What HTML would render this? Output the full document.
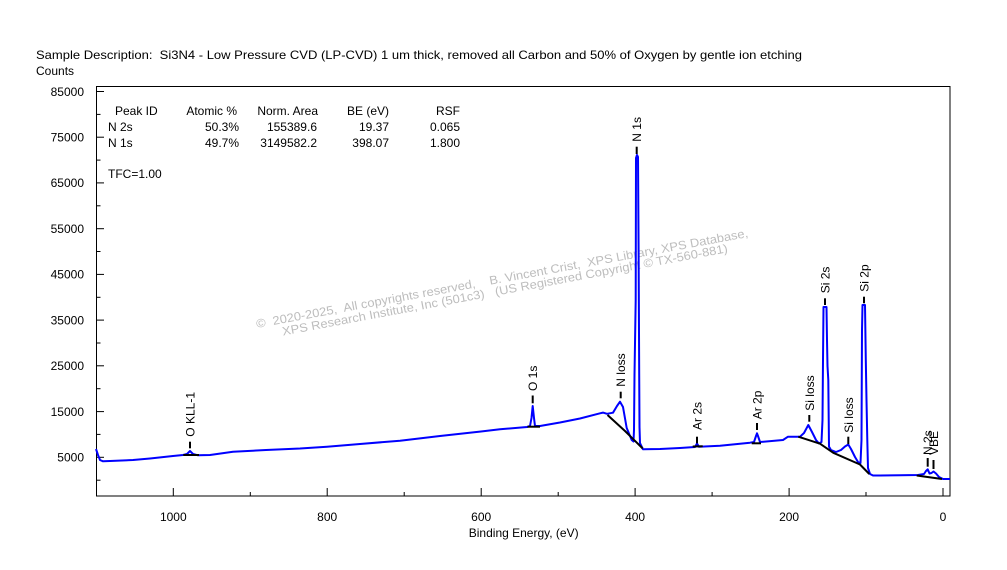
<!DOCTYPE html>
<html>
<head>
<meta charset="utf-8">
<style>
  html, body { margin:0; padding:0; background:#ffffff; }
  svg { display:block; }
  text { font-family: "Liberation Sans", Arial, sans-serif; font-size:12px; fill:#000; white-space:pre; }
</style>
</head>
<body>
<svg width="1007" height="570" viewBox="0 0 1007 570" xmlns="http://www.w3.org/2000/svg" xml:space="preserve">
  <rect x="0" y="0" width="1007" height="570" fill="#ffffff"/>

  <!-- Title -->
  <text x="36" y="59" textLength="766" lengthAdjust="spacingAndGlyphs">Sample Description:  Si3N4 - Low Pressure CVD (LP-CVD) 1 um thick, removed all Carbon and 50% of Oxygen by gentle ion etching</text>
  <text x="36" y="75">Counts</text>

  <!-- Watermark -->
  <text x="257" y="328" transform="rotate(-10.5 257 328)" textLength="500" lengthAdjust="spacingAndGlyphs" style="fill:#bdbdbd;font-size:12px">©  2020-2025,  All copyrights reserved,    B. Vincent Crist,  XPS Library, XPS Database,</text>
  <text x="283" y="335.5" transform="rotate(-10.6 283 335.5)" textLength="453" lengthAdjust="spacingAndGlyphs" style="fill:#bdbdbd;font-size:12px">XPS Research Institute, Inc (501c3)   (US Registered Copyright © TX-560-881)</text>

  <!-- Plot frame -->
  <rect x="96.5" y="86.5" width="853.5" height="409.5" fill="none" stroke="#000" stroke-width="1"/>

  <!-- Y ticks -->
  <g stroke="#000" stroke-width="1">
    <line x1="96" y1="91.5" x2="104" y2="91.5"/>
    <line x1="96" y1="137.2" x2="104" y2="137.2"/>
    <line x1="96" y1="182.9" x2="104" y2="182.9"/>
    <line x1="96" y1="228.7" x2="104" y2="228.7"/>
    <line x1="96" y1="274.4" x2="104" y2="274.4"/>
    <line x1="96" y1="320.1" x2="104" y2="320.1"/>
    <line x1="96" y1="365.8" x2="104" y2="365.8"/>
    <line x1="96" y1="411.6" x2="104" y2="411.6"/>
    <line x1="96" y1="457.3" x2="104" y2="457.3"/>
    <line x1="96" y1="114.4" x2="100.5" y2="114.4"/>
    <line x1="96" y1="160.1" x2="100.5" y2="160.1"/>
    <line x1="96" y1="205.8" x2="100.5" y2="205.8"/>
    <line x1="96" y1="251.5" x2="100.5" y2="251.5"/>
    <line x1="96" y1="297.3" x2="100.5" y2="297.3"/>
    <line x1="96" y1="343.0" x2="100.5" y2="343.0"/>
    <line x1="96" y1="388.7" x2="100.5" y2="388.7"/>
    <line x1="96" y1="434.4" x2="100.5" y2="434.4"/>
    <line x1="96" y1="480.2" x2="100.5" y2="480.2"/>
  </g>
  <g text-anchor="end">
    <text x="84" y="95.8">85000</text>
    <text x="84" y="141.5">75000</text>
    <text x="84" y="187.2">65000</text>
    <text x="84" y="233">55000</text>
    <text x="84" y="278.7">45000</text>
    <text x="84" y="324.4">35000</text>
    <text x="84" y="370.1">25000</text>
    <text x="84" y="415.9">15000</text>
    <text x="84" y="461.6">5000</text>
  </g>

  <!-- X ticks -->
  <g stroke="#000" stroke-width="1">
    <line x1="173.3" y1="488" x2="173.3" y2="496"/>
    <line x1="327.2" y1="488" x2="327.2" y2="496"/>
    <line x1="481.2" y1="488" x2="481.2" y2="496"/>
    <line x1="635.1" y1="488" x2="635.1" y2="496"/>
    <line x1="789.1" y1="488" x2="789.1" y2="496"/>
    <line x1="943" y1="488" x2="943" y2="496"/>
    <line x1="250.3" y1="492" x2="250.3" y2="496"/>
    <line x1="404.2" y1="492" x2="404.2" y2="496"/>
    <line x1="558.2" y1="492" x2="558.2" y2="496"/>
    <line x1="712.1" y1="492" x2="712.1" y2="496"/>
    <line x1="866" y1="492" x2="866" y2="496"/>
  </g>
  <g text-anchor="middle">
    <text x="173.3" y="521">1000</text>
    <text x="327.2" y="521">800</text>
    <text x="481.2" y="521">600</text>
    <text x="635.1" y="521">400</text>
    <text x="789.1" y="521">200</text>
    <text x="943" y="521">0</text>
    <text x="523.7" y="537">Binding Energy, (eV)</text>
  </g>

  <!-- Table -->
  <text x="115" y="115">Peak ID</text>
  <g text-anchor="end">
    <text x="237" y="115">Atomic %</text>
    <text x="318" y="115">Norm. Area</text>
    <text x="389" y="115">BE (eV)</text>
    <text x="460" y="115">RSF</text>
    <text x="239" y="131">50.3%</text>
    <text x="317" y="131">155389.6</text>
    <text x="389" y="131">19.37</text>
    <text x="460" y="131">0.065</text>
    <text x="239" y="147">49.7%</text>
    <text x="317" y="147">3149582.2</text>
    <text x="389" y="147">398.07</text>
    <text x="460" y="147">1.800</text>
  </g>
  <text x="108" y="131">N 2s</text>
  <text x="108" y="147">N 1s</text>
  <text x="108" y="178">TFC=1.00</text>

  <!-- Spectrum -->
  <polyline fill="none" stroke="#0000ff" stroke-width="2" stroke-linejoin="round" points="
    96,449 98,455 100,460 103,461.3 110,461 133,460 150,458.5 173,456 183,455 187,454 190,451 193,454 198,455.3
    210,455 233,451.7 266,450 300,448.5 327,446.7 360,444 400,440.7 440,436 481,431.5 500,429.3
    527,427 530,426 531.5,418 532.7,406 534,418 535,426 540,426 560,422.5 580,418.5 600,413.3
    603,412.6 607,413.8 613,412.7 617,406 620,401.7 623,407 626.7,428 631.7,440 633.5,441.5 634,430
    634.5,375 635.7,300 636,158 637,155 638,157 638.6,250 639.2,375 639.5,427 640,443 643,449.3
    660,449 680,448 695,447 697,443.5 699,446.8 720,445.8 750,442.7 754,442 756,436 757,433.3 758,436 760,442
    783,440 788,436.7 800,436.7 804,433 808.3,425 812,432 816,440 819,443.5 821.5,442 822.5,420
    823,360 823.5,307 826.5,307 827,340 827.5,366 828.3,380 829,446.7 831,450 836,452 841,450 845,446.5
    848.3,444.5 851,449 855,457 858,462 860.5,463 861.5,440 862,330 862.5,305 865,305 865.8,360
    866.5,400 867.3,440 868,468 870,474 873,475.5 880,475.5 900,475.2 918,475 924,474 926,471
    927.7,469.3 929.5,473.5 931.5,473 933.5,471.5 936,473.5 939,477 943,479 950,479"/>

  <!-- Baselines -->
  <g fill="none" stroke="#000" stroke-width="2" stroke-linejoin="round">
    <line x1="183.3" y1="455" x2="199" y2="455"/>
    <line x1="527.5" y1="426.7" x2="540" y2="426.7"/>
    <polyline points="607.5,415 625,431 642.7,448.5"/>
    <line x1="692.7" y1="446.5" x2="702.7" y2="446.3"/>
    <line x1="751.7" y1="443.3" x2="761" y2="443.3"/>
    <polyline points="798.3,436.7 820,443.7 833.3,452.8 860,464.5 869.3,474"/>
    <line x1="916.7" y1="475.5" x2="942" y2="479"/>
  </g>

  <!-- Peak label dashes -->
  <g stroke="#000" stroke-width="2">
    <line x1="190" y1="441.7" x2="190" y2="448.3"/>
    <line x1="532.7" y1="395.5" x2="532.7" y2="403.3"/>
    <line x1="620.7" y1="391.7" x2="620.7" y2="398.3"/>
    <line x1="636.7" y1="146.7" x2="636.7" y2="154"/>
    <line x1="697" y1="436.7" x2="697" y2="443.3"/>
    <line x1="757" y1="423" x2="757" y2="430"/>
    <line x1="809.3" y1="415" x2="809.3" y2="421.7"/>
    <line x1="825" y1="298.3" x2="825" y2="305"/>
    <line x1="848.3" y1="436.7" x2="848.3" y2="444"/>
    <line x1="864" y1="296.7" x2="864" y2="303.3"/>
    <line x1="927.7" y1="458" x2="927.7" y2="466.7"/>
    <line x1="933.5" y1="460" x2="933.5" y2="469"/>
  </g>

  <!-- Peak labels (rotated) -->
  <text transform="translate(194.5,436.7) rotate(-90)">O KLL-1</text>
  <text transform="translate(537.2,391) rotate(-90)">O 1s</text>
  <text transform="translate(625.2,386.7) rotate(-90)">N loss</text>
  <text transform="translate(641.2,141.7) rotate(-90)">N 1s</text>
  <text transform="translate(701.5,430) rotate(-90)">Ar 2s</text>
  <text transform="translate(761.5,419.3) rotate(-90)">Ar 2p</text>
  <text transform="translate(813.8,410.7) rotate(-90)">Si loss</text>
  <text transform="translate(829.5,293.3) rotate(-90)">Si 2s</text>
  <text transform="translate(852.8,432.7) rotate(-90)">Si loss</text>
  <text transform="translate(868.5,291.7) rotate(-90)">Si 2p</text>
  <text transform="translate(932.2,455) rotate(-90)">N 2s</text>
  <text transform="translate(938,455) rotate(-90)">VBE</text>
</svg>
</body>
</html>
